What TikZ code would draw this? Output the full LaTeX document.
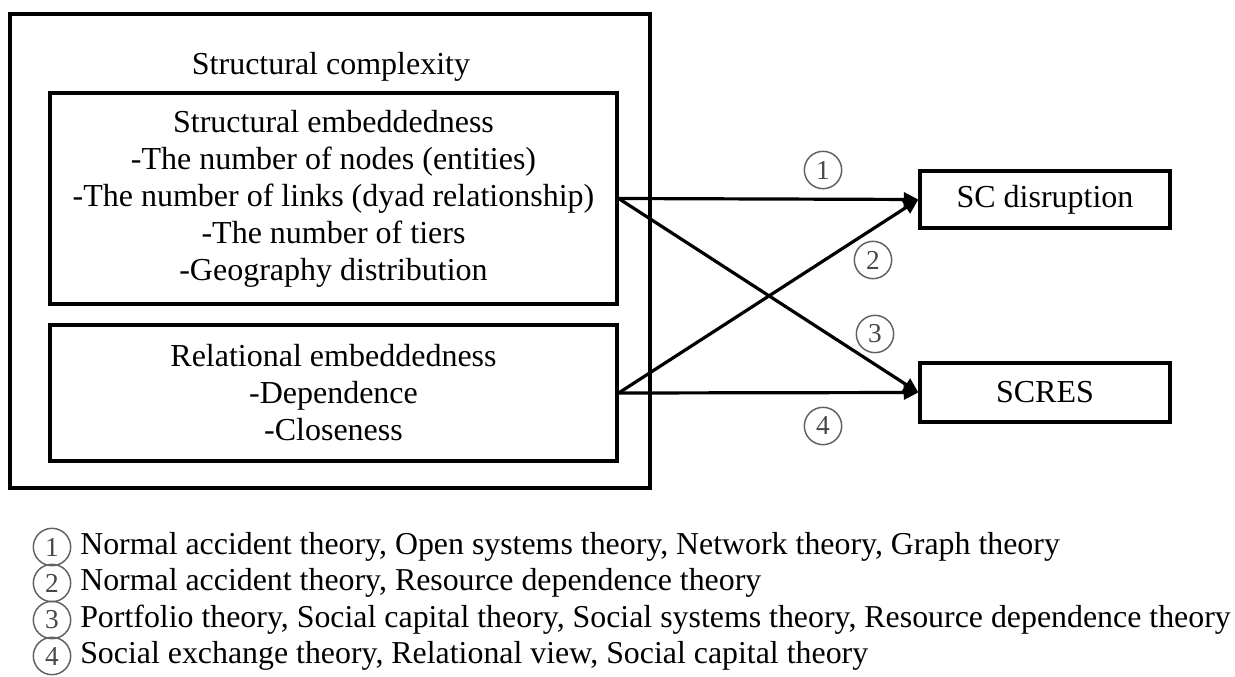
\documentclass[tikz,border=0pt]{standalone}
\usepackage{fontspec}
\setmainfont{Liberation Serif}
\usetikzlibrary{arrows.meta}
\tikzset{
  boxline/.style={draw=black, line width=2.4pt, inner sep=0pt, align=center,
    font=\fontsize{24pt}{27.75pt}\selectfont},
  conn/.style={line width=2.4pt, -{Triangle[length=11pt,width=10.5pt]}},
  circnum/.style={circle, draw=black!62, line width=1.1pt, text=black!72,
    minimum size=28pt, inner sep=0pt,
    font=\fontsize{20.5pt}{20.5pt}\selectfont},
  legtext/.style={anchor=west, inner sep=0pt, font=\fontsize{23.9pt}{27.75pt}\selectfont}
}
\begin{document}
\begin{tikzpicture}[x=0.75pt, y=-0.75pt]
\useasboundingbox (0,0) rectangle (1235,677);
% outer box
\node[boxline, minimum width=480pt, minimum height=355.5pt] (outer) at (330,251) {};
\node[inner sep=0pt, font=\fontsize{24pt}{27.75pt}\selectfont] (title) at (331,67) {Structural complexity};
% inner boxes
\node[boxline, minimum width=425.25pt, minimum height=158.25pt] (sbox) at (333.5,198.5)
  {Structural embeddedness\\-The number of nodes (entities)\\-The number of links (dyad relationship)\\-The number of tiers\\-Geography distribution};
\node[boxline, minimum width=425.25pt, minimum height=102pt] (rbox) at (333.5,393)
  {Relational embeddedness\\-Dependence\\-Closeness};
% outcome boxes
\node[boxline, minimum width=187.5pt, minimum height=42.75pt] (scd) at (1045,199.5) {SC disruption};
\node[boxline, minimum width=187.5pt, minimum height=44.25pt] (scres) at (1045,392.5) {SCRES};
% connectors
\draw[conn] (sbox.east) -- (scd.west);
\draw[conn] (rbox.east) -- (scd.west);
\draw[conn] (sbox.east) -- (scres.west);
\draw[conn] (rbox.east) -- (scres.west);
% path labels
\node[circnum] (l1) at (823,170) {1};
\node[circnum] (l2) at (873,260) {2};
\node[circnum] (l3) at (875,334) {3};
\node[circnum] (l4) at (823,426) {4};
% legend
\node[circnum] (k1) at (52,547) {1};
\node[circnum] (k2) at (52,583) {2};
\node[circnum] (k3) at (52,620) {3};
\node[circnum] (k4) at (52,656) {4};
\node[legtext] (t1) at (80,547) {Normal accident theory, Open systems theory, Network theory, Graph theory};
\node[legtext] (t2) at (80,583) {Normal accident theory, Resource dependence theory};
\node[legtext] (t3) at (80,620) {Portfolio theory, Social capital theory, Social systems theory, Resource dependence theory};
\node[legtext] (t4) at (80,656) {Social exchange theory, Relational view, Social capital theory};
\end{tikzpicture}
\end{document}
